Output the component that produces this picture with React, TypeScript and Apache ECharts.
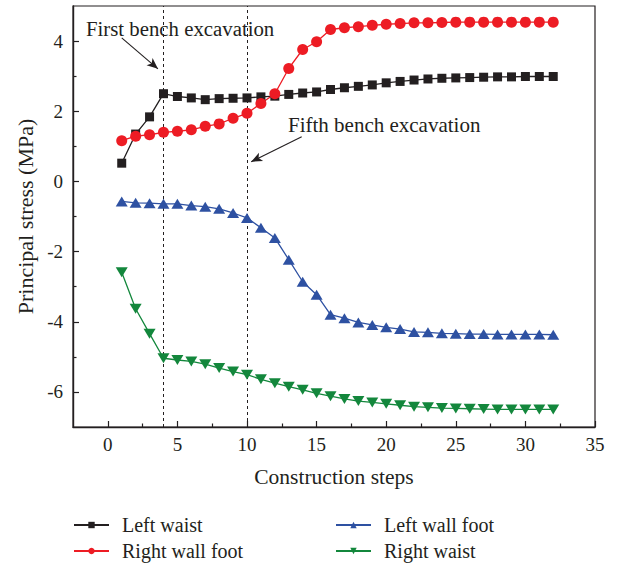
import React, { useEffect, useRef } from "react";
import * as echarts from "echarts";

const FONT = '"Liberation Serif", "Times New Roman", serif';
const INK = "#231f20";

const steps = [1, 2, 3, 4, 5, 6, 7, 8, 9, 10, 11, 12, 13, 14, 15, 16, 17, 18, 19, 20, 21, 22, 23, 24, 25, 26, 27, 28, 29, 30, 31, 32];

const leftWaist = [0.52, 1.35, 1.84, 2.5, 2.42, 2.38, 2.33, 2.36, 2.37, 2.38, 2.41, 2.43, 2.48, 2.52, 2.55, 2.62, 2.67, 2.71, 2.75, 2.81, 2.85, 2.89, 2.92, 2.94, 2.95, 2.96, 2.97, 2.98, 2.98, 2.99, 2.99, 2.99];
const rightWallFoot = [1.16, 1.29, 1.33, 1.4, 1.43, 1.47, 1.57, 1.64, 1.8, 1.94, 2.22, 2.5, 3.22, 3.76, 3.98, 4.33, 4.38, 4.41, 4.45, 4.48, 4.5, 4.52, 4.52, 4.53, 4.54, 4.54, 4.54, 4.54, 4.54, 4.54, 4.54, 4.54];
const leftWallFoot = [-0.57, -0.61, -0.62, -0.64, -0.64, -0.69, -0.72, -0.78, -0.9, -1.04, -1.32, -1.61, -2.23, -2.86, -3.23, -3.8, -3.9, -4.02, -4.09, -4.16, -4.21, -4.29, -4.3, -4.33, -4.34, -4.35, -4.35, -4.36, -4.36, -4.36, -4.36, -4.37];
const rightWaist = [-2.59, -3.63, -4.34, -5.04, -5.09, -5.13, -5.21, -5.32, -5.42, -5.51, -5.64, -5.75, -5.85, -5.94, -6.04, -6.12, -6.2, -6.26, -6.3, -6.34, -6.38, -6.42, -6.44, -6.46, -6.47, -6.48, -6.49, -6.5, -6.5, -6.5, -6.5, -6.5];

const xMajorTicks = [0, 5, 10, 15, 20, 25, 30, 35];
const xMinorTicks = [2.5, 7.5, 12.5, 17.5, 22.5, 27.5, 32.5];
const yMajorTicks = [-6, -4, -2, 0, 2, 4];
const yMinorTicks = [-5, -3, -1, 1, 3];

// Excavation stages marked by vertical dashed lines
const benchSteps = [4, 10];

// Annotation arrows: [tail, head] in data coordinates
const firstArrow = [[1.0, 4.09], [3.6, 3.21]];
const fifthArrow = [[13.93, 1.27], [10.3, 0.56]];

const COLORS = {
  black: INK,
  red: "#ed1c24",
  blue: "#2e51a2",
  green: "#13873c",
};

const pairs = (ys: number[]) => steps.map((s, i) => [s, ys[i]]);

export default function App() {
  const ref = useRef<HTMLDivElement>(null);

  useEffect(() => {
    if (!ref.current) return;
    const chart = echarts.init(ref.current, undefined, { renderer: "svg" });

    const axisLine = { show: true, onZero: false, lineStyle: { color: INK, width: 1.4 } };
    const labelStyle = { fontFamily: FONT, fontSize: 19, color: INK };

    const legendText = {
      fontFamily: FONT,
      fontSize: 20,
      color: INK,
      lineHeight: 20,
      padding: [0, 0, 0, 8],
    };

    const legendBase = {
      orient: "vertical",
      top: 515,
      padding: 0,
      itemWidth: 35,
      itemHeight: 8,
      itemGap: 6,
      textStyle: legendText,
    };

    const option: any = {
      animation: false,
      backgroundColor: "#ffffff",
      grid: {
        left: 73,
        right: 23,
        top: 6,
        bottom: 136,
        show: true,
        borderColor: INK,
        borderWidth: 1.2,
        backgroundColor: "transparent",
      },
      xAxis: [
        {
          type: "value",
          min: -2.5,
          max: 35,
          position: "bottom",
          axisLine,
          axisTick: {
            show: true,
            inside: true,
            length: 6,
            customValues: xMajorTicks,
            lineStyle: { color: INK, width: 1.2 },
          },
          axisLabel: { ...labelStyle, margin: 8, customValues: xMajorTicks },
          splitLine: { show: false },
          name: "Construction steps",
          nameLocation: "middle",
          nameGap: 39,
          nameTextStyle: { fontFamily: FONT, fontSize: 21.5, color: INK },
        },
        {
          type: "value",
          min: -2.5,
          max: 35,
          position: "bottom",
          axisLine: { show: false, onZero: false },
          axisTick: {
            show: true,
            inside: true,
            length: 3.5,
            customValues: xMinorTicks,
            lineStyle: { color: INK, width: 1.2 },
          },
          axisLabel: { show: false },
          splitLine: { show: false },
        },
      ],
      yAxis: [
        {
          type: "value",
          min: -7,
          max: 5,
          position: "left",
          axisLine,
          axisTick: {
            show: true,
            inside: true,
            length: 6,
            customValues: yMajorTicks,
            lineStyle: { color: INK, width: 1.2 },
          },
          axisLabel: { ...labelStyle, margin: 10, customValues: yMajorTicks },
          splitLine: { show: false },
          name: "Principal stress (MPa)",
          nameLocation: "middle",
          nameGap: 37,
          nameTextStyle: { fontFamily: FONT, fontSize: 22, color: INK },
        },
        {
          type: "value",
          min: -7,
          max: 5,
          position: "left",
          axisLine: { show: false, onZero: false },
          axisTick: {
            show: true,
            inside: true,
            length: 3.5,
            customValues: yMinorTicks,
            lineStyle: { color: INK, width: 1.2 },
          },
          axisLabel: { show: false },
          splitLine: { show: false },
        },
      ],
      legend: [
        { ...legendBase, left: 73, data: ["Left waist", "Right wall foot"] },
        { ...legendBase, left: 335, data: ["Left wall foot", "Right waist"] },
      ],
      graphic: [
        {
          type: "text",
          x: 86,
          y: 28,
          style: {
            text: "First bench excavation",
            fontFamily: FONT,
            fontSize: 20.8,
            fill: INK,
            verticalAlign: "middle",
          },
        },
        {
          type: "text",
          x: 288,
          y: 125,
          style: {
            text: "Fifth bench excavation",
            fontFamily: FONT,
            fontSize: 21,
            fill: INK,
            verticalAlign: "middle",
          },
        },
      ],
      series: [
        {
          name: "Left waist",
          type: "line",
          data: pairs(leftWaist),
          symbol: "rect",
          symbolSize: 9,
          itemStyle: { color: COLORS.black },
          lineStyle: { color: COLORS.black, width: 1.3 },
          z: 3,
          markLine: {
            silent: true,
            symbol: ["none", "none"],
            symbolSize: [7, 11],
            label: { show: false },
            z: 2,
            data: [
              ...benchSteps.map((s) => ({
                xAxis: s,
                lineStyle: { color: INK, width: 1, type: [3, 3] },
              })),
              [
                { coord: firstArrow[0], symbol: "none", lineStyle: { color: INK, width: 1.1, type: "solid" } },
                { coord: firstArrow[1], symbol: "arrow" },
              ],
              [
                { coord: fifthArrow[0], symbol: "none", lineStyle: { color: INK, width: 1.1, type: "solid" } },
                { coord: fifthArrow[1], symbol: "arrow" },
              ],
            ],
          },
        },
        {
          name: "Right wall foot",
          type: "line",
          data: pairs(rightWallFoot),
          symbol: "circle",
          symbolSize: 11,
          itemStyle: { color: COLORS.red },
          lineStyle: { color: COLORS.red, width: 1.3 },
          z: 3,
        },
        {
          name: "Left wall foot",
          type: "line",
          data: pairs(leftWallFoot),
          symbol: "triangle",
          symbolSize: [12, 10],
          itemStyle: { color: COLORS.blue },
          lineStyle: { color: COLORS.blue, width: 1.3 },
          z: 3,
        },
        {
          name: "Right waist",
          type: "line",
          data: pairs(rightWaist),
          symbol: "triangle",
          symbolRotate: 180,
          symbolSize: [12, 10],
          itemStyle: { color: COLORS.green },
          lineStyle: { color: COLORS.green, width: 1.3 },
          z: 3,
        },
      ],
    };

    chart.setOption(option);
    return () => chart.dispose();
  }, []);

  return (
    <div
      ref={ref}
      style={{ position: "fixed", left: 0, top: 0, width: 618, height: 563 }}
    />
  );
}
